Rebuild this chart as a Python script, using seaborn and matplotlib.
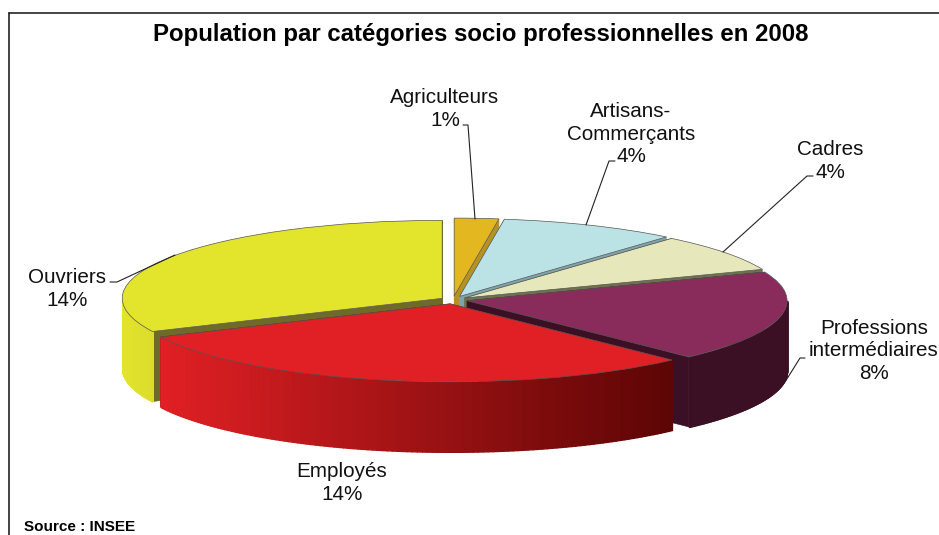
import numpy as np
import matplotlib
matplotlib.use("Agg")
import matplotlib.pyplot as plt
import seaborn as sns

categories = ["Agriculteurs", "Artisans-\nCommerçants", "Cadres", "Professions\nintermédiaires", "Employés", "Ouvriers"]
values = [1.0, 4.0, 3.5, 8.4, 13.5, 14.3]
shown_pct = [1, 4, 4, 8, 14, 14]

top_colors = ["#e3b71f", "#bbe3e6", "#e6e8bb", "#8a2c5b", "#e02024", "#e3e42c"]
cut_colors = ["#b8921e", "#7fa3aa", "#6e704e", "#3b1025", "#7a1010", "#6e6a2a"]
wall_start = ["#e3b71f", "#bbe3e6", "#e6e8bb", "#3b1025", "#e02024", "#e3e42c"]
wall_end = ["#e3b71f", "#bbe3e6", "#e6e8bb", "#3b1025", "#5e0505", "#dcdc2c"]
explode = [0.05, 0.05, 0.045, 0.045, 0.05, 0.04]
draw_order = [0, 1, 2, 5, 3, 4]

# position des libellés, en pixels de l'image
label_pos = [(445, 109), (631, 134), (830, 161), (874, 351), (342, 483), (67, 289)]
leaders = [
    [(463, 125), (468, 125), (475, 219)],
    [(615, 161), (609, 161), (586, 225)],
    [(813, 176), (807, 176), (723, 252)],
    [(805, 358), (800, 358), (785, 382)],
    [(110, 282), (117, 282), (175, 255)],
]

W, H = 939, 535
CX, CY = 453, 300
RX, RY = 320, 78
DEPTH = 70
k = RY / RX

sns.set_theme(style="white")
plt.rcParams["font.family"] = ["Liberation Sans", "DejaVu Sans"]

fig = plt.figure(figsize=(W / 100, H / 100), dpi=100)
ax = fig.add_axes([0, 0, 1, 1])
wedges, _ = ax.pie(values, explode=[e * RX for e in explode], startangle=90, counterclock=False,
                   colors=top_colors, radius=RX, center=(CX, 0),
                   wedgeprops={"edgecolor": "#555555", "linewidth": 0.5})
ax.set_aspect("auto")
ax.set_xlim(0, W)
ax.set_ylim(-(H - CY) / k, CY / k)
d = DEPTH / k

for rank, i in enumerate(draw_order):
    w = wedges[i]
    base = 10 * (rank + 1)
    cx, cy = w.center
    # faces de coupe
    for a in (w.theta1, w.theta2):
        ex = cx + w.r * np.cos(np.radians(a))
        ey = cy + w.r * np.sin(np.radians(a))
        ax.fill([cx, ex, ex, cx], [cy, ey, ey - d, cy - d], color=cut_colors[i],
                lw=0.4, zorder=base)
    # paroi extérieure, seulement la partie avant
    angles = []
    t1, t2 = w.theta1, w.theta2
    for lo, hi in [(-180, 0), (180, 360), (-540, -360)]:
        a, b = max(t1, lo), min(t2, hi)
        if b > a:
            angles.append((a, b))
    pal = sns.blend_palette([wall_start[i], wall_end[i]], 80)
    for a, b in angles:
        th = np.radians(np.linspace(a, b, 121))
        xs = cx + w.r * np.cos(th)
        ys = cy + w.r * np.sin(th)
        span = max(abs(xs[-1] - xs[0]), 1)
        for j in range(120):
            f = abs((xs[j] + xs[j + 1]) / 2 - xs[0]) / span
            ax.fill_between(xs[j:j + 2], ys[j:j + 2], ys[j:j + 2] - d,
                            color=pal[min(int(f * 80), 79)], lw=1, zorder=base + 1)
    w.set_zorder(base + 2)

# textes et cadre, en pixels
over = fig.add_axes([0, 0, 1, 1], facecolor="none")
over.set_xlim(0, W)
over.set_ylim(H, 0)
over.axis("off")
over.set_zorder(5)

over.plot([9, W], [13, 13], color="#444444", lw=1.4)
over.plot([9, 9], [13, H], color="#222222", lw=1.2)
over.text(481, 35, "Population par catégories socio professionnelles en 2008",
          ha="center", va="center", fontsize=17.3, fontweight="bold", color="black")
over.text(24, 527, "Source : INSEE", ha="left", va="center", fontsize=11,
          fontweight="bold", color="black")

for cat, val, (x, y) in zip(categories, shown_pct, label_pos):
    over.text(x, y, f"{cat}\n{val}%", ha="center", va="center", fontsize=14.9,
              color="#111111", linespacing=1.23)
for line in leaders:
    over.plot([p[0] for p in line], [p[1] for p in line], color="#222222", lw=0.8)

fig.savefig("out.png", dpi=100)
